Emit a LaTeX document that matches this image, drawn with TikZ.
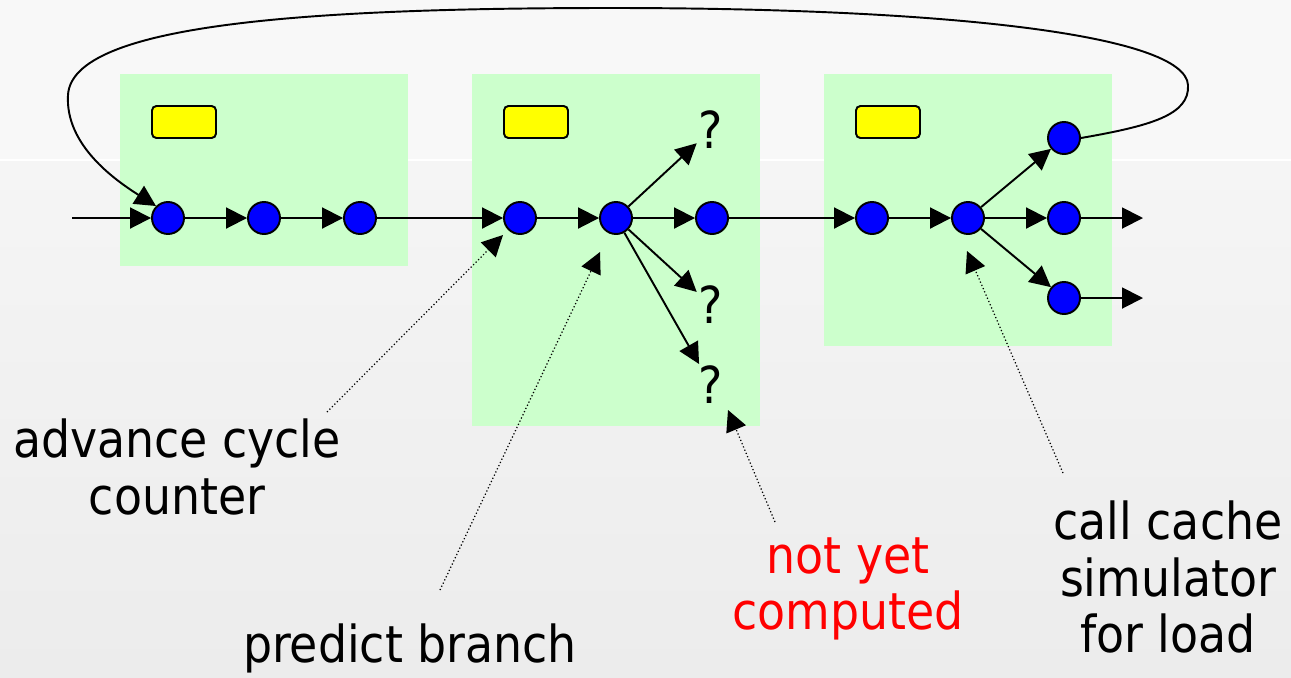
\documentclass[tikz,border=0pt]{standalone}
\usepackage{fontspec}
\setmainfont{DejaVu Sans Condensed}
\usetikzlibrary{arrows.meta, positioning}

\definecolor{stagegreen}{HTML}{CCFFCC}
\definecolor{regyellow}{HTML}{FFFF00}
\definecolor{opblue}{HTML}{0000FF}
\definecolor{bgtop}{HTML}{F8F8F8}
\definecolor{bghi}{HTML}{F5F5F5}
\definecolor{bglo}{HTML}{ECECEC}

\tikzset{
  op/.style={circle, draw, line width=1.1pt, fill=opblue, minimum size=0.64cm, inner sep=0pt},
  reg/.style={draw, line width=1.1pt, fill=regyellow, rounded corners=2.5pt, minimum width=1.28cm, minimum height=0.64cm, inner sep=0pt},
  flow/.style={line width=1.1pt, -{Triangle[length=0.42cm, width=0.42cm]}},
  note/.style={line width=0.7pt, dash pattern=on 0.7pt off 1.3pt, -{Triangle[length=0.42cm, width=0.42cm]}},
  lbl/.style={align=center, font=\fontsize{29}{32}\selectfont, inner sep=0pt},
  qm/.style={font=\fontsize{29}{32}\selectfont, inner sep=1pt}
}

\begin{document}
\begin{tikzpicture}[x=0.02cm, y=-0.02cm]
      \useasboundingbox (0,0) rectangle (1291,677);
      \fill[bgtop] (0,0) rectangle (1291,160);
      \shade[top color=bghi, bottom color=bglo] (0,161) rectangle (1291,677);
      \draw[white, line width=0.6pt] (0,160) -- (1291,160);
      \fill[stagegreen] (120,74) rectangle (408,266);
      \fill[stagegreen] (472,74) rectangle (760,426);
      \fill[stagegreen] (824,74) rectangle (1112,346);
      \node[reg] (r1) at (184,122) {};
      \node[reg] (r2) at (536,122) {};
      \node[reg] (r3) at (888,122) {};
      \node[op] (a1) at (168,218) {};
      \node[op] (a2) at (264,218) {};
      \node[op] (a3) at (360,218) {};
      \node[op] (b1) at (520,218) {};
      \node[op] (b2) at (616,218) {};
      \node[op] (b3) at (712,218) {};
      \node[op] (c1) at (872,218) {};
      \node[op] (c2) at (968,218) {};
      \node[op] (c3) at (1064,138) {};
      \node[op] (c4) at (1064,218) {};
      \node[op] (c5) at (1064,298) {};
      \node[qm] (q1) at (711,130) {?};
      \node[qm] (q2) at (711,305) {?};
      \node[qm] (q3) at (711,385) {?};
      \coordinate (in) at (72,218);
      \coordinate (out1) at (1143,218);
      \coordinate (out2) at (1143,298);
      \draw[flow] (in) -- (a1);
      \draw[flow] (a1) -- (a2);
      \draw[flow] (a2) -- (a3);
      \draw[flow] (a3) -- (b1);
      \draw[flow] (b1) -- (b2);
      \draw[flow] (b2) -- (b3);
      \draw[flow] (b2) -- (q1);
      \draw[flow] (b2) -- (q2);
      \draw[flow] (b2) -- (q3);
      \draw[flow] (b3) -- (c1);
      \draw[flow] (c1) -- (c2);
      \draw[flow] (c2) -- (c3);
      \draw[flow] (c2) -- (c4);
      \draw[flow] (c2) -- (c5);
      \draw[flow] (c4) -- (out1);
      \draw[flow] (c5) -- (out2);
      \draw[flow] (c3.east) .. controls (1150,126) and (1190,115) .. (1188,85)
        .. controls (1185,35) and (950,8) .. (611,8)
        .. controls (300,8) and (72,25) .. (68,95)
        .. controls (65,145) and (115,180) .. (a1.135);
      \node[lbl] (adv) at (177,467) {advance cycle\\counter};
      \node[lbl] (pred) at (410,648) {predict branch};
      \node[lbl, text=red] (notyet) at (848,589) {not yet\\computed};
      \node[lbl] (call) at (1168,577) {call cache\\simulator\\for load};
      \coordinate (advS) at (327,412);
      \coordinate (advT) at (503,235);
      \coordinate (predS) at (440,590);
      \coordinate (predT) at (600,252);
      \coordinate (nyS) at (775,522);
      \coordinate (nyT) at (728,410);
      \coordinate (callS) at (1063,473);
      \coordinate (callT) at (967,251);
      \draw[note] (advS) -- (advT);
      \draw[note] (predS) -- (predT);
      \draw[note] (nyS) -- (nyT);
      \draw[note] (callS) -- (callT);
    \end{tikzpicture}
\end{document}
